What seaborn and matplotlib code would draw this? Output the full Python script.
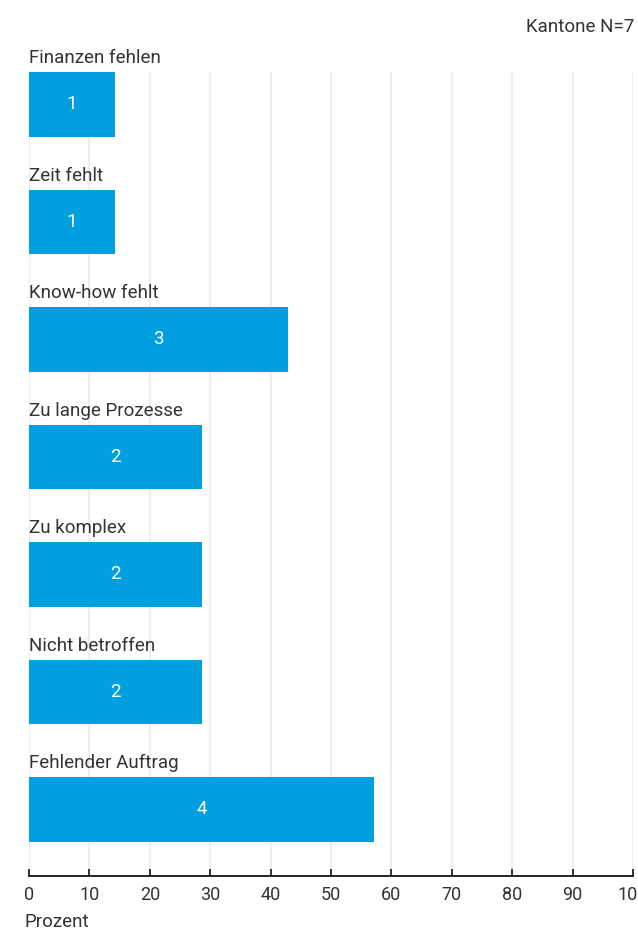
import matplotlib
matplotlib.use("Agg")
import matplotlib.pyplot as plt
import seaborn as sns
import pandas as pd

categories = ["Finanzen fehlen", "Zeit fehlt", "Know-how fehlt", "Zu lange Prozesse",
              "Zu komplex", "Nicht betroffen", "Fehlender Auftrag"]
counts = [1, 1, 3, 2, 2, 2, 4]
n_total = 7
percent = [c / n_total * 100 for c in counts]
x_ticks = [0, 10, 20, 30, 40, 50, 60, 70, 80, 90, 100]

sns.set_theme(style="white")
plt.rcParams["font.family"] = ["Roboto", "DejaVu Sans"]

df = pd.DataFrame({"cat": categories, "pct": percent, "n": counts})

fig = plt.figure(figsize=(6.38, 9.31), dpi=100)
W, H = 638, 931
ax = fig.add_axes([29 / W, 55 / H, (633 - 29) / W, (876 - 72) / H])

bar_w = 0.553
sns.barplot(data=df, x="pct", y="cat", orient="h", color="#009FDF", width=bar_w,
            saturation=1, ax=ax, zorder=3, linewidth=0)

ax.set_xlim(0, 100)
top = -bar_w / 2
ax.set_ylim(6.566, top)
ax.set_xticks(x_ticks)
ax.set_xticklabels([str(t) for t in x_ticks], fontsize=13, color="#333333")
ax.set_yticks([])
ax.set_ylabel("")
ax.set_xlabel("")

for s in ["top", "right", "left"]:
    ax.spines[s].set_visible(False)
ax.spines["bottom"].set_color("#111111")
ax.spines["bottom"].set_linewidth(1.3)
ax.tick_params(axis="x", direction="in", length=5, width=1.2, color="#111111", pad=7,
               bottom=True)

ax.grid(axis="x", color="#ebebeb", linewidth=1.2, zorder=0)
ax.set_axisbelow(True)

fs = 13.5
for i, (cat, p, c) in enumerate(zip(categories, percent, counts)):
    ax.text(0, i - bar_w / 2 - 0.075, cat, ha="left", va="baseline", fontsize=fs,
            color="#333333", clip_on=False)
    ax.text(p / 2, i, str(c), ha="center", va="center", fontsize=fs, color="white",
            zorder=4)

fig.text(634 / W, 1 - 27 / H, "Kantone N=7", ha="right", va="center", fontsize=fs,
         color="#333333")
fig.text(24 / W, 1 - 922 / H, "Prozent", ha="left", va="center", fontsize=fs,
         color="#333333")

fig.savefig("out.png", dpi=100)
